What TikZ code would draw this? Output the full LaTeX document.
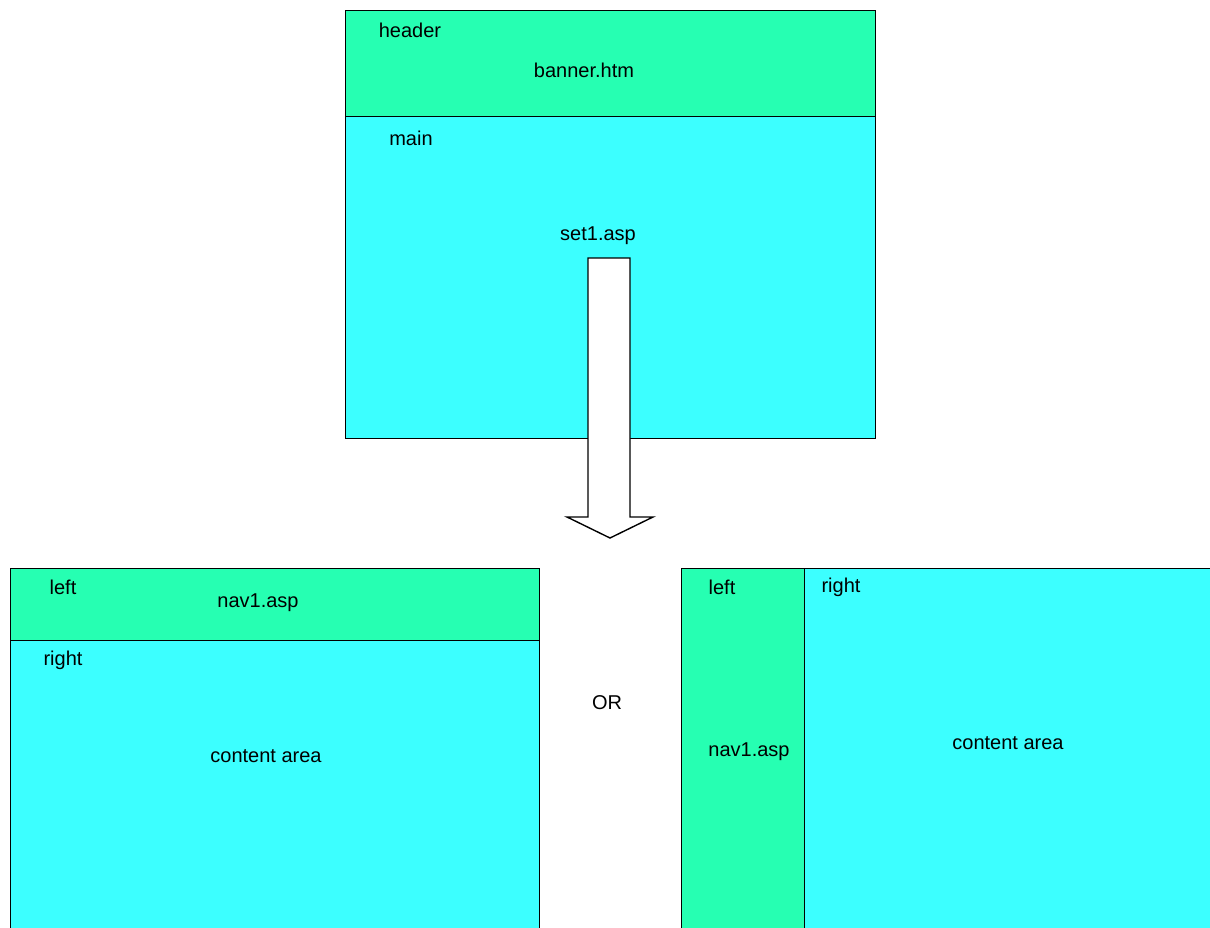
\documentclass[tikz,border=0pt]{standalone}
\usepackage{fontspec}
\setmainfont{Liberation Sans}
\usetikzlibrary{positioning}
\definecolor{framegreen}{RGB}{38,255,178}
\definecolor{framecyan}{RGB}{60,255,255}
\tikzset{
  greenframe/.style={rectangle, anchor=north west, inner sep=0pt, draw=black, line width=1.4pt, fill=framegreen},
  cyanframe/.style={rectangle, anchor=north west, inner sep=0pt, draw=black, line width=1.4pt, fill=framecyan},
  label/.style={inner sep=0pt, font=\fontsize{20}{23}\selectfont},
  blockarrow/.style={draw=black, fill=white, line width=1.4pt, line join=miter}
}
\begin{document}
\begin{tikzpicture}[x=1pt, y=-1pt]
  \useasboundingbox (0,0) rectangle (1210,928);
  \clip (0,0) rectangle (1210,928);

  % top frameset
  \node (header) [greenframe, minimum width=530pt, minimum height=106pt] at (345,10) {};
  \node (main) [cyanframe, minimum width=530pt, minimum height=322pt] at (345,116) {};
  \node (headerlbl) [label] at (410,30) {header};
  \node (banner) [label] at (584,70) {banner.htm};
  \node (mainlbl) [label] at (411,138) {main};
  \node (set) [label] at (598,236) {set1.asp};

  % arrow down
  \draw [blockarrow] (588,258) -- (630,258) -- (630,517) -- (653,517) -- (610,538)
    -- (567,517) -- (588,517) -- cycle;

  % left option
  \node (navtop) [greenframe, minimum width=529pt, minimum height=72pt] at (10,568) {};
  \node (contentbot) [cyanframe, minimum width=529pt, minimum height=330pt] at (10,640) {};
  \node (leftlbl) [label] at (63,587) {left};
  \node (navtoplbl) [label] at (258,603) {nav1.asp};
  \node (rightlbl) [label] at (63,660) {right};
  \node (contentlbl) [label] at (266,756) {content area};

  \node (or) [label] at (607,703) {OR};

  % right option
  \node (navcol) [greenframe, minimum width=123pt, minimum height=400pt] at (681,568) {};
  \node (contentcol) [cyanframe, minimum width=500pt, minimum height=400pt] at (804,568) {};
  \node (leftlbl2) [label] at (722,587) {left};
  \node (rightlbl2) [label] at (841,587) {right};
  \node (navcollbl) [label] at (749,752) {nav1.asp};
  \node (contentcollbl) [label] at (1008,743) {content area};
\end{tikzpicture}
\end{document}
